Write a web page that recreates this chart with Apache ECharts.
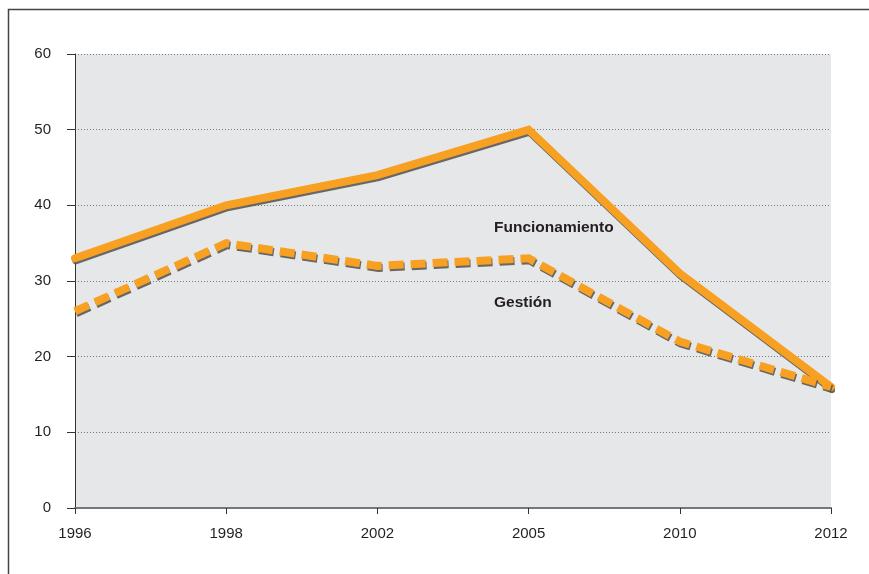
<!DOCTYPE html>
<html>
<head>
<meta charset="utf-8">
<script src="https://cdn.jsdelivr.net/npm/echarts@6/dist/echarts.min.js"></script>
<style>
  html, body { margin: 0; padding: 0; background: #fff; }
  #chart { width: 869px; height: 574px; }
</style>
</head>
<body>
<div id="chart"></div>
<script>
// años (eje x)
const years = ['1996', '1998', '2002', '2005', '2010', '2012']
// valores por serie
const funcionamiento = [33, 40, 44, 50, 31, 16]
const gestion = [26, 35, 32, 33, 22, 16]

const orange = '#f8a021'
const shadow = {
  shadowColor: 'rgba(80, 80, 80, 0.85)',
  shadowBlur: 0,
  shadowOffsetX: 1,
  shadowOffsetY: 2,
}
const font = 'Liberation Sans, Arial, sans-serif'

const myChart = echarts.init(document.getElementById('chart'))

const option = {
  backgroundColor: '#fff',
  animation: false,
  textStyle: { fontFamily: font },
  grid: {
    left: 75,
    right: 38,
    top: 54,
    bottom: 66,
    show: true,
    backgroundColor: '#e6e7e8',
    borderWidth: 0,
  },
  xAxis: {
    type: 'category',
    data: years,
    boundaryGap: false,
    axisLine: { lineStyle: { color: '#777', width: 2 } },
    axisTick: { show: true, length: 6, lineStyle: { color: '#333' } },
    axisLabel: { color: '#231f20', fontSize: 15, margin: 18 },
    splitLine: { show: false },
  },
  yAxis: {
    type: 'value',
    min: 0,
    max: 60,
    interval: 10,
    axisLine: { show: true, lineStyle: { color: '#333', width: 1 } },
    axisTick: { show: true, length: 8, lineStyle: { color: '#333' } },
    axisLabel: { color: '#231f20', fontSize: 15, margin: 24 },
    splitLine: { lineStyle: { color: '#777', type: [1, 2], width: 1 } },
  },
  graphic: [
    {
      type: 'rect',
      silent: true,
      z: -1,
      shape: { x: 8.5, y: 9.5, width: 900, height: 600 },
      style: { fill: 'none', stroke: '#444', lineWidth: 1.5 },
    },
    {
      type: 'text',
      left: 494,
      top: 220,
      style: { text: 'Funcionamiento', font: 'bold 15.5px ' + font, fill: '#231f20' },
    },
    {
      type: 'text',
      left: 494,
      top: 295,
      style: { text: 'Gestión', font: 'bold 15.5px ' + font, fill: '#231f20' },
    },
  ],
  series: [
    {
      name: 'Funcionamiento',
      type: 'line',
      data: funcionamiento,
      symbol: 'none',
      lineStyle: { color: orange, width: 8, cap: 'round', join: 'miter', ...shadow },
    },
    {
      name: 'Gestión',
      type: 'line',
      data: gestion,
      symbol: 'none',
      lineStyle: { color: orange, width: 8, type: [15, 7], cap: 'butt', join: 'miter', ...shadow },
    },
  ],
}

myChart.setOption(option)

window.addEventListener('resize', () => {
  myChart.resize()
})
</script>
</body>
</html>
